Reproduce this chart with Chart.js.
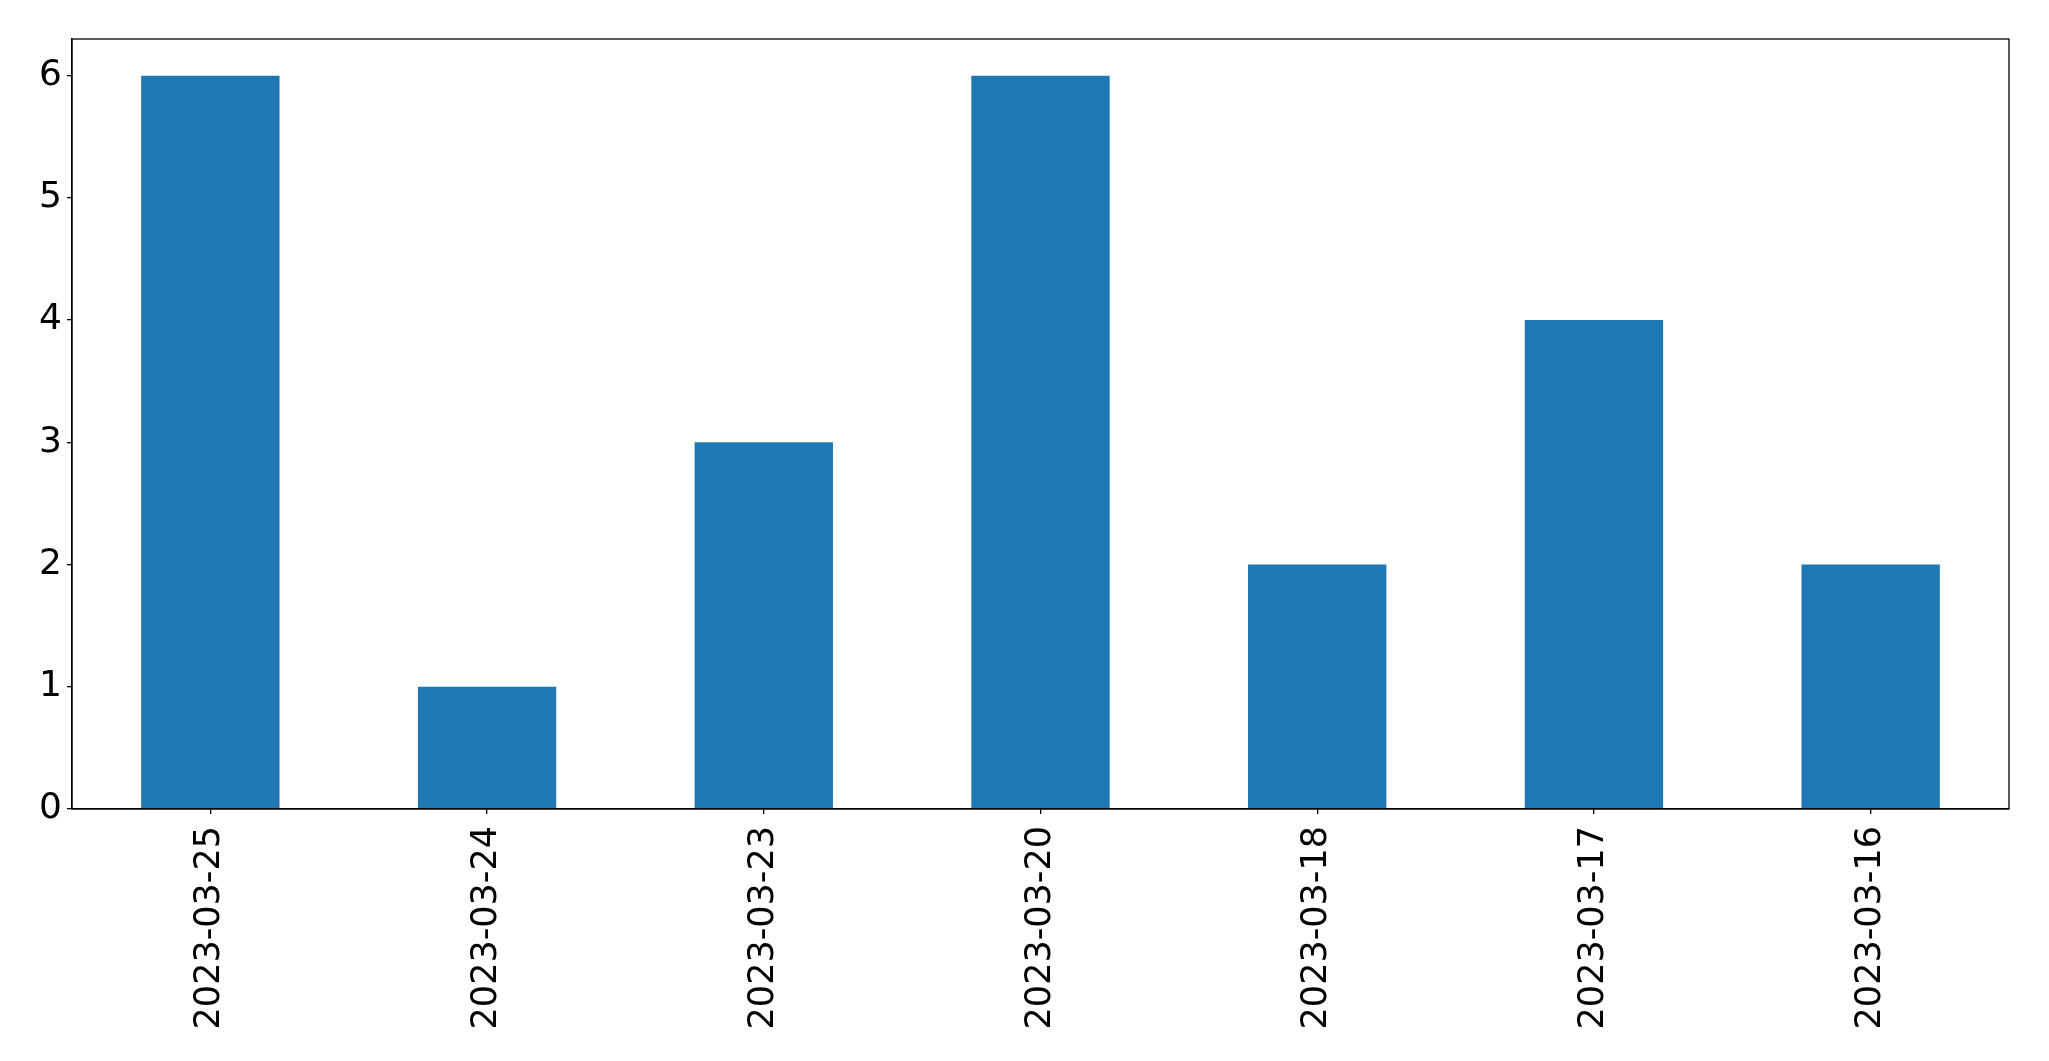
<!DOCTYPE html>
<html>
<head>
<meta charset="utf-8">
<script src="https://cdn.jsdelivr.net/npm/chart.js@4"></script>
<style>
  html, body { margin: 0; padding: 0; background: #fff; }
  canvas { display: block; }
</style>
</head>
<body>
<canvas id="chart" width="2049" height="1061"></canvas>
<script>
// ---------- Data ----------
const DATES = ['2023-03-25','2023-03-24','2023-03-23','2023-03-20','2023-03-18','2023-03-17','2023-03-16'];
const COUNTS = [6, 1, 3, 6, 2, 4, 2];
const Y_TICKS = [0, 1, 2, 3, 4, 5, 6];

// draw the top and right spines like matplotlib
const frame = {
  id: 'frame',
  afterDraw(c) {
    const { ctx, chartArea: a } = c;
    ctx.save();
    ctx.strokeStyle = '#000';
    ctx.lineWidth = 1.3;
    ctx.strokeRect(a.left, a.top, a.right - a.left, a.bottom - a.top);
    ctx.restore();
  }
};

new Chart(document.getElementById('chart').getContext('2d'), {
  type: 'bar',
  data: {
    labels: DATES,
    datasets: [{
      data: COUNTS,
      backgroundColor: '#1f77b4',
      barPercentage: 0.5,
      categoryPercentage: 1.0
    }]
  },
  options: {
    responsive: false,
    animation: false,
    layout: { padding: { top: 39, right: 40, left: 0, bottom: 0 } },
    plugins: { legend: { display: false }, tooltip: { enabled: false } },
    scales: {
      x: {
        offset: true,
        grid: { offset: false, drawOnChartArea: false, drawTicks: true, tickLength: 5, color: '#000', lineWidth: 1.3 },
        border: { display: true, color: '#000', width: 1.3 },
        ticks: { color: '#000', font: { family: 'DejaVu Sans', size: 35 }, minRotation: 90, maxRotation: 90, autoSkip: false, padding: 12 },
        afterFit(s) { s.height = 1061 - 809; }
      },
      y: {
        min: 0,
        max: 6.3,
        afterBuildTicks(s) { s.ticks = Y_TICKS.map(v => ({ value: v })); },
        grid: { drawOnChartArea: false, drawTicks: true, tickLength: 5, color: '#000', lineWidth: 1.3 },
        border: { display: true, color: '#000', width: 1.3 },
        ticks: { color: '#000', font: { family: 'DejaVu Sans', size: 36 }, padding: 5 },
        afterFit(s) { s.width = 72; }
      }
    }
  },
  plugins: [frame]
});
</script>
</body>
</html>
